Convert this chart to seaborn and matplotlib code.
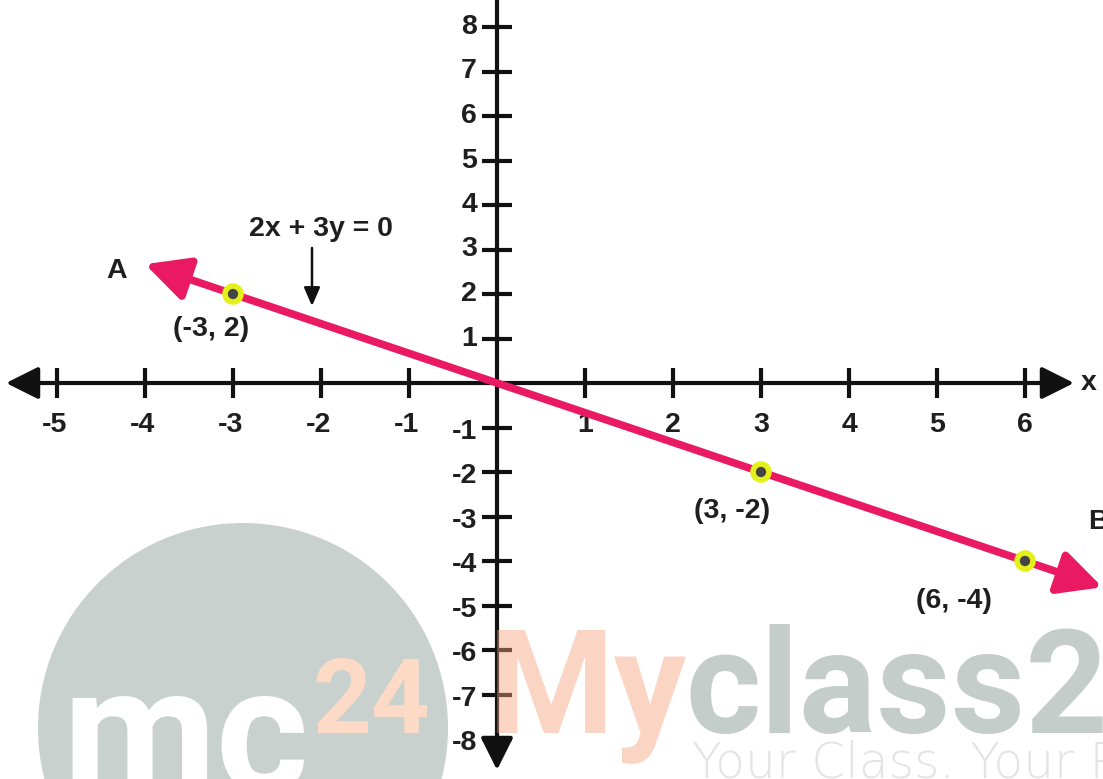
import numpy as np
import pandas as pd
import seaborn as sns
import matplotlib
matplotlib.use("Agg")
import matplotlib.pyplot as plt
from matplotlib.patches import Ellipse

# ---------------- data ----------------
x_ticks = [-5, -4, -3, -2, -1, 1, 2, 3, 4, 5, 6]
y_ticks = [-8, -7, -6, -5, -4, -3, -2, -1, 1, 2, 3, 4, 5, 6, 7, 8]
point_x = [-3, 3, 6]
point_y = [2, -2, -4]
point_labels = ["(-3, 2)", "(3, -2)", "(6, -4)"]
end_x = [-4.0, 6.88]          # arrow tips of line AB
end_y = [2.67, -4.59]
end_labels = ["A", "B"]
equation = "2x + 3y = 0"
axis_name = "x"

# ---------------- layout helpers (pixel -> data) ----------------
W, H = 1103, 779
X0, DX = 497.0, 88.0
Y0, DY = 383.0, 44.5


def px_x(p):
    return (p - X0) / DX


def px_y(p):
    return (Y0 - p) / DY


sns.set_theme(style="white")
plt.rcParams["font.family"] = ["Liberation Sans", "DejaVu Sans"]

fig = plt.figure(figsize=(W / 100, H / 100), dpi=100)
ax = fig.add_axes([0, 0, 1, 1])
ax.set_xlim(px_x(0), px_x(W))
ax.set_ylim(px_y(H), px_y(0))
ax.axis("off")

PINK = "#ea1a62"
BLACK = "#111111"
LBL = dict(fontsize=20.5, fontweight="bold", color="#1f1f1f")

# ---------------- watermark (behind) ----------------
circ = Ellipse((243 / W, 1 - 728 / H), 410 / W, 410 / H, transform=ax.transAxes,
               facecolor="#c9d1cf", edgecolor="none", zorder=0)
ax.add_patch(circ)
ax.text(62 / W, 1 - 792 / H, "mc", transform=ax.transAxes, fontsize=128,
        fontweight="bold", family="Roboto", color="white", zorder=1,
        ha="left", va="baseline")
ax.text(312 / W, 1 - 733 / H, "24", transform=ax.transAxes, fontsize=74,
        fontweight="bold", family="Roboto", color="#fcdac6",
        zorder=1, ha="left", va="baseline")
ax.text(692 / W, 1 - 778 / H, "Your Class. Your Passion", transform=ax.transAxes,
        fontsize=35, fontweight="light", family=["DejaVu Sans"], color="#e4e4e4",
        zorder=1, ha="left", va="baseline")

# ---------------- axes with arrows ----------------
ax.annotate("", xy=(px_x(6), 0), xytext=(px_x(1074), 0),
            arrowprops=dict(arrowstyle="<|-|>,head_length=0.9,head_width=0.45",
                            lw=3, color=BLACK, mutation_scale=22,
                            shrinkA=0, shrinkB=0), zorder=3)
ax.annotate("", xy=(0, px_y(770)), xytext=(0, px_y(-20)),
            arrowprops=dict(arrowstyle="-|>,head_length=0.9,head_width=0.45",
                            lw=3, color=BLACK, mutation_scale=22,
                            shrinkA=0, shrinkB=0), zorder=3)
ax.vlines(x_ticks, -15 / DY, 15 / DY, color=BLACK, lw=3, zorder=3)
ax.hlines(y_ticks, -15 / DX, 15 / DX, color=BLACK, lw=3, zorder=3)

for xv in x_ticks:
    ax.text(xv - (0.03 if xv < 0 else 0), px_y(425), str(xv), ha="center",
            va="center", zorder=4, **LBL)
for yv in y_ticks:
    ax.text(px_x(477), yv - (0.1 if yv < 0 else 0), str(yv), ha="right",
            va="center", zorder=4, **LBL)
ax.text(px_x(1081), 0, axis_name, ha="left", va="center", zorder=4, **LBL)

# ---------------- the line 2x + 3y = 0 ----------------
df = pd.DataFrame({"x": point_x, "y": point_y})
sns.lineplot(data=df, x="x", y="y", ax=ax, color=PINK, lw=5.5, zorder=5,
             sort=False)
for i, j in ((0, 0), (1, 2)):
    ax.annotate("", xy=(end_x[i], end_y[i]), xytext=(point_x[j], point_y[j]),
                arrowprops=dict(arrowstyle="-|>,head_length=1.1,head_width=0.55",
                                lw=5.5, color=PINK, mutation_scale=24,
                                shrinkA=0, shrinkB=0), zorder=5)

sns.scatterplot(data=df, x="x", y="y", ax=ax, s=240, color="#e4f01c",
                edgecolor="none", zorder=6, legend=False)
sns.scatterplot(data=df, x="x", y="y", ax=ax, s=55, color="#454545",
                edgecolor="none", zorder=7, legend=False)

offsets = [(-16, -25), (-21, -28), (-51, -29)]
for xv, yv, lab, off in zip(point_x, point_y, point_labels, offsets):
    ax.annotate(lab, (xv, yv), xytext=off, textcoords="offset points",
                ha="center", va="center", zorder=8, **LBL)

ax.text(px_x(117), px_y(271), end_labels[0], ha="center", va="center", zorder=8, **LBL)
ax.text(px_x(1088), px_y(522), end_labels[1], ha="left", va="center", zorder=8, **LBL)

ax.text(px_x(321), px_y(229), equation, ha="center", va="center", zorder=8, **LBL)
ax.annotate("", xy=(px_x(312), px_y(306)), xytext=(px_x(312), px_y(248)),
            arrowprops=dict(arrowstyle="-|>,head_length=0.8,head_width=0.35",
                            lw=1.8, color=BLACK, mutation_scale=14,
                            shrinkA=0, shrinkB=0), zorder=8)

# ---------------- watermark (front, translucent) ----------------
t_my = ax.text(488 / W, 1 - 733 / H, "My", transform=ax.transAxes, fontsize=104,
               fontweight="bold", family="Roboto", color="#f7a27c", alpha=0.45,
               zorder=9, ha="left", va="baseline")
fig.canvas.draw()
bb = t_my.get_window_extent(renderer=fig.canvas.get_renderer())
ax.text((bb.x1 - 2) / W, 1 - 733 / H, "class24", transform=ax.transAxes,
        fontsize=104, fontweight="bold", family="Roboto", color="#c5cdcb",
        zorder=1, ha="left", va="baseline")

fig.savefig("out.png", dpi=100)
